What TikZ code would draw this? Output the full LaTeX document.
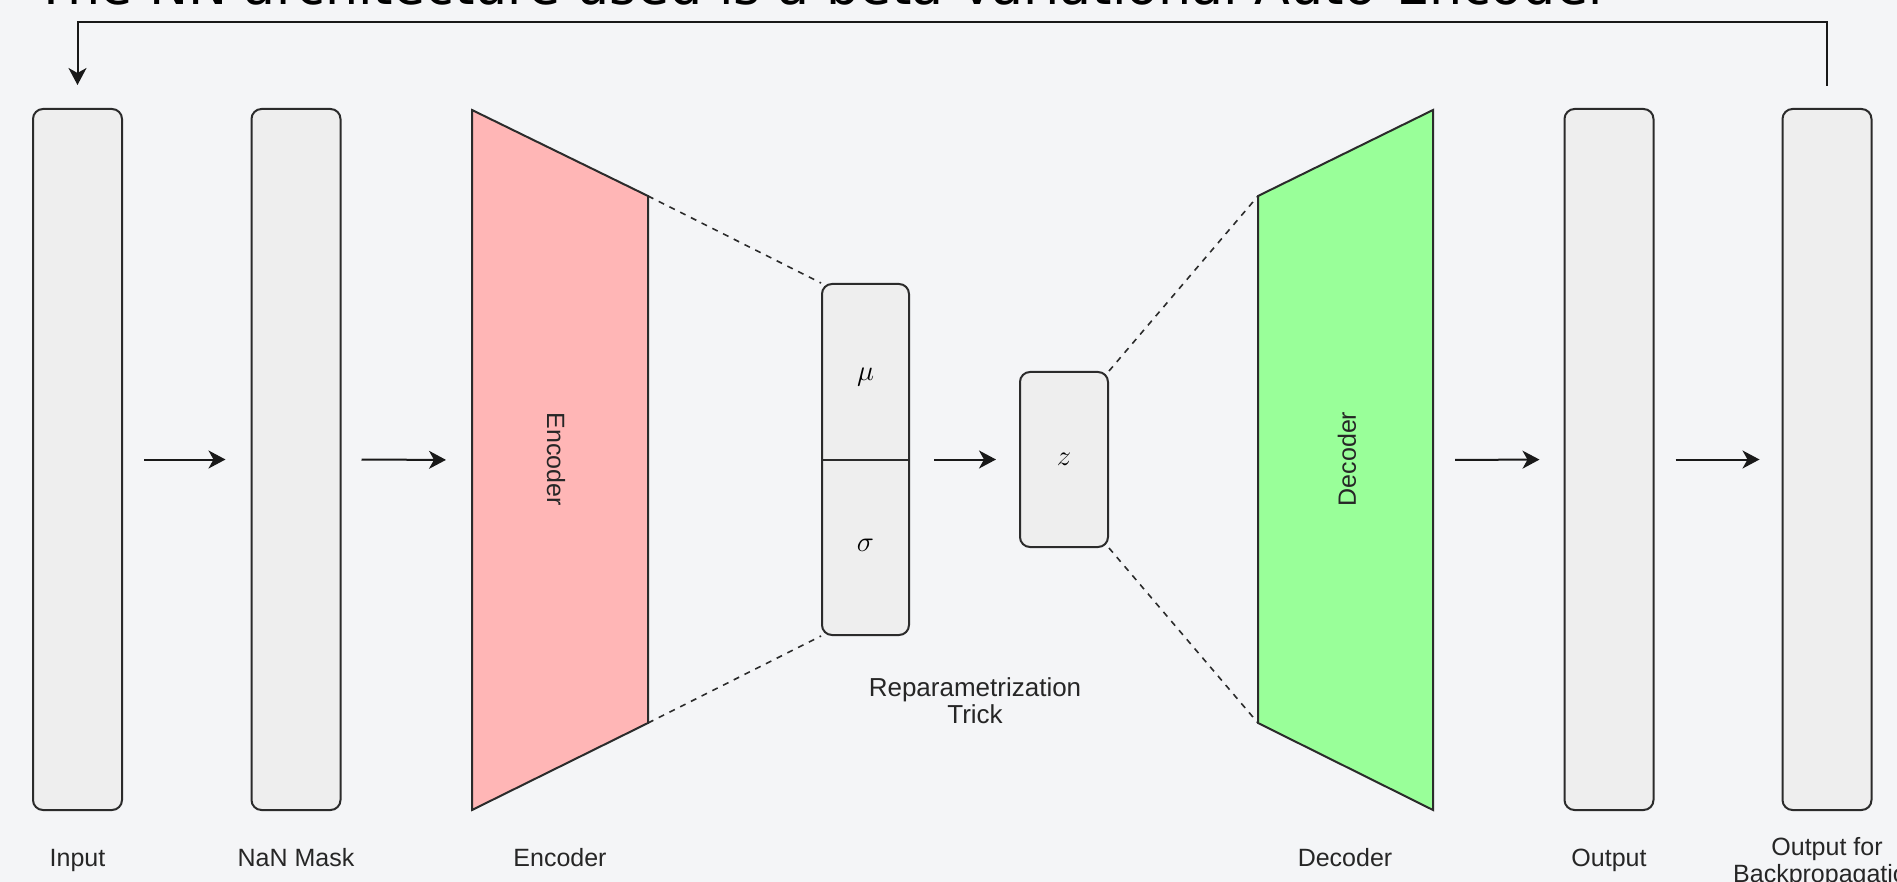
\documentclass[tikz,border=0pt]{standalone}
\usepackage{graphicx}
\usepackage{fontspec}
\setmainfont{Liberation Sans}
\newfontfamily\titlefont{DejaVu Sans}
\usetikzlibrary{arrows.meta}
\definecolor{bg}{HTML}{F4F5F7}
\definecolor{boxfill}{HTML}{EEEEEE}
\definecolor{edge}{HTML}{2B2B2B}
\definecolor{encfill}{HTML}{FFB6B6}
\definecolor{decfill}{HTML}{99FF99}
\begin{document}
\begin{tikzpicture}[x=0.5pt,y=-0.5pt,
  layer/.style={draw=edge, fill=boxfill, line width=1pt, rounded corners=5pt,
    minimum width=44.5pt, minimum height=350.5pt, inner sep=0pt},
  flow/.style={-{Stealth[length=8.5pt,width=9pt,inset=2.5pt]}, line width=1pt, draw=black!90},
  link/.style={draw=edge, line width=0.8pt, dash pattern=on 3pt off 3pt},
  lbl/.style={font=\fontsize{12.5}{13.5}\selectfont, text=black!85, inner sep=0pt},
  sym/.style={font=\fontsize{14}{16}\selectfont, inner sep=0pt},
  trap/.style={draw=edge, line width=1pt, line join=miter}]

\useasboundingbox (0,0) rectangle (1897,882);
\fill[bg] (0,0) rectangle (1897,882);
\clip (0,0) rectangle (1897,882);

% heading, partly above the page edge
\node[anchor=base west, inner sep=0pt] (title) at (35,5)
  {\resizebox{787pt}{!}{\titlefont The NN architecture used is a beta-Variational Auto-Encoder}};

% data layers
\node[layer] (inp) at (77.5,459.5) {};
\node[layer] (nan) at (296,459.5) {};
\node[layer] (out) at (1609,459.5) {};
\node[layer] (obp) at (1827,459.5) {};

% encoder
\coordinate (e1) at (472,110);
\coordinate (e2) at (648,196);
\coordinate (e3) at (648,723);
\coordinate (e4) at (472,810);
\coordinate (encL) at (472,460);
\fill[encfill] (e1) -- (e2) -- (e3) -- (e4) -- cycle;
\draw[trap] (e1) -- (e2) -- (e3) -- (e4) -- cycle;
\node[lbl, rotate=-90] (enc) at (556,459) {Encoder};

% decoder
\coordinate (d1) at (1258,196);
\coordinate (d2) at (1433,110);
\coordinate (d3) at (1433,810);
\coordinate (d4) at (1258,723);
\coordinate (decR) at (1433,460);
\fill[decfill] (d1) -- (d2) -- (d3) -- (d4) -- cycle;
\draw[trap] (d1) -- (d2) -- (d3) -- (d4) -- cycle;
\node[lbl, rotate=90] (dec) at (1347,459) {Decoder};

% latent statistics and sample
\node[layer, minimum width=43.5pt, minimum height=175.5pt] (ms) at (865.5,459.5) {};
\draw[draw=edge, line width=1pt] (ms.west) -- (ms.east);
\node[sym] (mu) at (865.5,377) {$\mu$};
\node[sym] (sigma) at (865.5,545) {$\sigma$};
\node[layer, minimum width=44pt, minimum height=87.5pt, font=\fontsize{14}{16}\selectfont] (z) at (1064,459.5) {$z$};

% dashed funnels
\draw[link] (e2) -- (ms.north west);
\draw[link] (e3) -- (ms.south west);
\draw[link] (z.north east) -- (d1);
\draw[link] (z.south east) -- (d4);

% forward flow
\draw[flow, shorten <=10.5pt, shorten >=12.5pt] (inp.east) -- (nan.west);
\draw[flow, shorten <=10pt, shorten >=13pt] (nan.east) -- (encL);
\draw[flow, shorten <=12pt, shorten >=11.5pt] (ms.east) -- (z.west);
\draw[flow, shorten <=11pt, shorten >=12pt] (decR) -- (out.west);
\draw[flow, shorten <=10.5pt, shorten >=11pt] (out.east) -- (obp.west);

% feedback loop
\coordinate (fb) at (0,22);
\draw[flow] ([yshift=11pt]obp.north) -- (obp.north |- fb) -- (inp.north |- fb) -- ([yshift=11.5pt]inp.north);

% captions
\node[lbl, anchor=base] (linp) at (77.5,866) {Input};
\node[lbl, anchor=base] (lnan) at (296,866) {NaN Mask};
\node[lbl, anchor=base] (lenc) at (560,866) {Encoder};
\node[lbl, anchor=base] (ldec) at (1345,866) {Decoder};
\node[lbl, anchor=base] (lout) at (1609,866) {Output};
\node[lbl, anchor=north, align=center] (lobp) at (1827,837) {Output for\\Backpropagation};
\node[lbl, anchor=north, align=center, font=\fontsize{13}{13.5}\selectfont] (rep) at (975,677) {Reparametrization\\Trick};
\end{tikzpicture}
\end{document}
